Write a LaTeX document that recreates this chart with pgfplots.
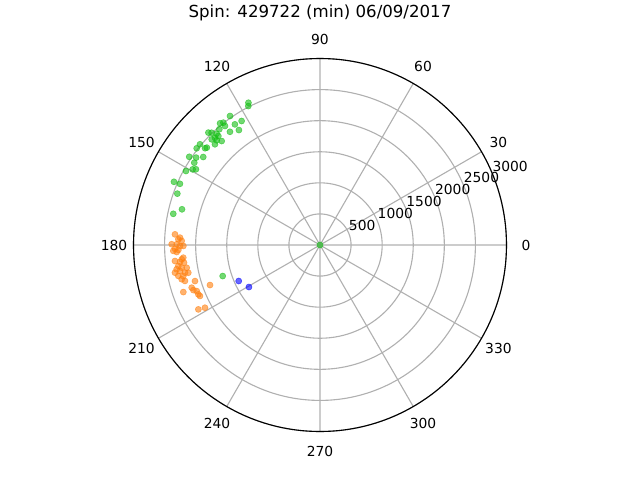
\documentclass[border=0pt]{standalone}
\usepackage{pgfplots}
\pgfplotsset{compat=1.18}
\usepgfplotslibrary{polar}
\usepackage{fontspec}
\setmainfont{DejaVu Sans}
\definecolor{mgreen}{RGB}{20,190,20}
\definecolor{morange}{RGB}{255,127,14}
\definecolor{mblue}{RGB}{0,0,255}
\definecolor{mgrid}{RGB}{176,176,176}
\begin{document}
\begin{tikzpicture}
\path[use as bounding box] (-3.2in,-2.35in) rectangle (3.2in,2.45in);
\begin{polaraxis}[
  at={(0,0)}, anchor=center,
  scale only axis, width=3.73in, height=3.73in,
  ymin=0, ymax=3000,
  xtick={0,30,...,330},
  ytick={500,1000,1500,2000,2500,3000},
  xticklabels={}, yticklabels={},
  major tick length=0pt,
  grid=major,
  grid style={color=mgrid, line width=0.8pt},
  separate axis lines,
  x axis line style={black, line width=0.8pt},
  y axis line style={draw=none},
  clip=false,
  font=\fontsize{10}{12}\selectfont,
]
\addplot[only marks, mark=*, mark size=2.2pt, color=morange, mark options={fill=morange, fill opacity=0.6, draw opacity=0.6}] coordinates {
(175.8,2339) (177,2255) (178.3,2226) (177.7,2281) (179.7,2386) (179.7,2305)
(180.4,2252) (180.4,2198) (181.5,2333) (182.3,2362) (182.8,2308) (182,2280)
(185.3,2209) (185.9,2236) (186.3,2347) (186.9,2268) (187.4,2206) (188.4,2304)
(189.3,2255) (189.6,2339) (190.5,2290) (191.6,2217) (191.9,2165) (192.3,2333)
(192.8,2255) (193.9,2292) (194.9,2248) (196.1,2093) (198.4,2175) (199.6,2162)
(200.5,2117) (202.1,2112) (203,2098) (199,2325) (200,1883) (207.9,2214)
(208.6,2108) (189.7,2175) (190.8,2375)
};
\addplot[only marks, mark=*, mark size=2.2pt, color=mgreen, mark options={fill=mgreen, fill opacity=0.6, draw opacity=0.6}] coordinates {
(116.7,2562) (117.3,2515) (124.9,2530) (122.3,2360) (128.3,2508) (129.4,2533)
(128.6,2450) (125.2,2375) (125.2,2263) (128.5,2327) (131,2468) (134.8,2548)
(134,2510) (132.9,2443) (133,2398) (134.4,2415) (135.7,2434) (133.4,2302)
(136.2,2341) (134.6,2366) (139.3,2402) (139.9,2417) (140,2520) (141.9,2521)
(143,2352) (144.8,2439) (146,2537) (146.8,2417) (149.3,2383) (148.6,2338)
(151.1,2463) (156.6,2560) (156.4,2459) (160.2,2439) (165.5,2293) (168,2413)
(197.7,1643) (0,0)
};
\addplot[only marks, mark=*, mark size=2.2pt, color=mblue, mark options={fill=mblue, fill opacity=0.6, draw opacity=0.6}] coordinates {
(203.9,1430) (210.6,1328)
};
\pgfplotsinvokeforeach{0,30,...,330}{
  \node[font=\fontsize{10}{12}\selectfont, inner sep=0pt] at (axis cs:#1,3314) {#1};
}
\pgfplotsinvokeforeach{500,1000,1500,2000,2500,3000}{
  \node[font=\fontsize{10}{12}\selectfont, anchor=south west, inner xsep=0pt, inner ysep=1.5pt] at (axis cs:22.5,#1) {#1};
}
\end{polaraxis}
\node[anchor=base, font=\fontsize{12}{14.4}\selectfont, inner sep=0pt] at (0,2.275in) {Spin: 429722 (min) 06/09/2017};
\end{tikzpicture}
\end{document}
